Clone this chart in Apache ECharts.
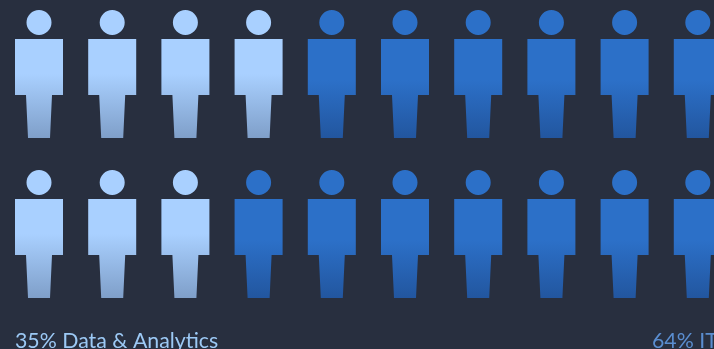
<!DOCTYPE html>
<html>
<head>
<meta charset="utf-8">
<style>html,body{margin:0;padding:0;background:#282f3f;overflow:hidden}#c{width:714px;height:349px}</style>
<script src="https://cdn.jsdelivr.net/npm/echarts@6/dist/echarts.min.js"></script>
</head>
<body>
<div id="c"></div>
<script>
var columns = ['1','2','3','4','5','6','7','8','9','10'];
var rows = ['row 1','row 2'];
var highlightedPerRow = [4, 3];
var labels = ['35% Data & Analytics', '64% IT'];

var person = 'path://M24 0A12.5 12.5 0 1 1 24 25A12.5 12.5 0 1 1 24 0ZM0 29H48V85H37L35 128H13L11 85H0Z';
function grad(stops){
  return {type:'linear',x:0,y:0,x2:0,y2:1,colorStops:stops};
}
var lightFill = grad([{offset:0,color:'#a9d0ff'},{offset:0.5,color:'#a9d0ff'},{offset:1,color:'#7f9fc9'}]);
var darkFill = grad([{offset:0,color:'#2c70c8'},{offset:0.55,color:'#2c70c8'},{offset:1,color:'#22569f'}]);

var lightData = [], darkData = [];
rows.forEach(function(r, ri){
  columns.forEach(function(c, ci){
    (ci < highlightedPerRow[ri] ? lightData : darkData).push([c, r]);
  });
});

var chart = echarts.init(document.getElementById('c'), null, {renderer:'canvas'});
function layer(data, fill){
  return {type:'scatter',data:data,symbol:person,symbolSize:[48,128],silent:true,clip:false,
    itemStyle:{color:fill,opacity:1},animation:false};
}
chart.setOption({
  backgroundColor:'#282f3f',
  animation:false,
  grid:{left:2.4,top:-6,width:732,height:320,containLabel:false,outerBoundsMode:'none'},
  xAxis:{type:'category',data:columns,show:false},
  yAxis:{type:'category',data:rows,inverse:true,show:false},
  series:[layer(lightData,lightFill),layer(darkData,darkFill)],
  title:[
    {text:labels[0],left:15,top:329,padding:0,textStyle:{color:'#9cc9f5',fontFamily:'Lato',fontSize:21.3,fontWeight:'normal',lineHeight:24}},
    {text:labels[1],left:652,top:329,padding:0,textStyle:{color:'#5a8dcf',fontFamily:'Lato',fontSize:21.3,fontWeight:'normal',lineHeight:24}}
  ]
});
</script>
</body>
</html>
